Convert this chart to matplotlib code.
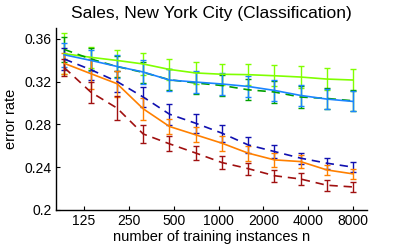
import matplotlib
matplotlib.use("Agg")
import matplotlib.pyplot as plt

# training set sizes (x) and tick labels
n = [92, 139, 208, 312, 468, 702, 1053, 1580, 2370, 3556, 5333, 8000]
xticks = [125, 250, 500, 1000, 2000, 4000, 8000]
yticks = [0.2, 0.24, 0.28, 0.32, 0.36]

# error rates
lgreen = [0.346, 0.3426, 0.3397, 0.3364, 0.3313, 0.328, 0.3268, 0.3264, 0.3254, 0.3242, 0.3223, 0.3214]
lgreen_err = [0.019, 0.010, 0.010, 0.010, 0.010, 0.010, 0.010, 0.010, 0.010, 0.010, 0.010, 0.010]
dgreen = [0.350, 0.341, 0.334, 0.3285, 0.3217, 0.3186, 0.3163, 0.3123, 0.3102, 0.3055, 0.3042, 0.302]
dgreen_err = [0.012, 0.010, 0.010, 0.010, 0.010, 0.010, 0.010, 0.010, 0.010, 0.010, 0.010, 0.010]
blue = [0.345, 0.3397, 0.3341, 0.3289, 0.3214, 0.3195, 0.3177, 0.3154, 0.3117, 0.307, 0.3036, 0.3014]
blue_err = [0.011, 0.010, 0.011, 0.011, 0.010, 0.010, 0.0105, 0.010, 0.010, 0.0097, 0.0093, 0.0093]
navy = [0.341, 0.331, 0.320, 0.3055, 0.2895, 0.281, 0.2718, 0.2608, 0.2546, 0.2484, 0.2437, 0.240]
navy_err = [0.010, 0.010, 0.010, 0.0094, 0.0098, 0.009, 0.008, 0.0078, 0.0065, 0.005, 0.005, 0.005]
orange = [0.337, 0.3273, 0.318, 0.2945, 0.278, 0.2702, 0.2624, 0.2531, 0.2468, 0.2452, 0.2374, 0.2337]
orange_err = [0.010, 0.014, 0.012, 0.010, 0.007, 0.007, 0.007, 0.007, 0.0065, 0.006, 0.0047, 0.0045]
dred = [0.333, 0.310, 0.2952, 0.271, 0.2618, 0.2532, 0.2443, 0.2386, 0.232, 0.2289, 0.2231, 0.2215]
dred_err = [0.008, 0.010, 0.011, 0.0085, 0.007, 0.0065, 0.006, 0.0057, 0.0055, 0.0055, 0.005, 0.005]

plt.rcParams['font.family'] = ['Liberation Sans', 'DejaVu Sans']


def main():
    fig = plt.figure(figsize=(4.07, 2.47), dpi=100)
    ax = fig.add_axes([0.1376, 0.150, 0.7641, 0.7366])

    series = [
        (lgreen, lgreen_err, '#80ff00', '-'),
        (dgreen, dgreen_err, '#00a000', (0, (5, 3.5))),
        (blue, blue_err, '#1a85ff', '-'),
        (navy, navy_err, '#1010b0', (0, (5, 3.5))),
        (orange, orange_err, '#ff8000', '-'),
        (dred, dred_err, '#a01010', (0, (5, 3.5))),
    ]
    for y, e, c, ls in series:
        ax.errorbar(n, y, yerr=e, color=c, ecolor=c, linestyle=ls,
                    linewidth=1.2, elinewidth=1.0, capsize=2.4, capthick=1.0)

    ax.set_xscale('log', base=2)
    ax.set_xlim(81, 9930)
    ax.set_ylim(0.2, 0.37)
    ax.set_xticks(xticks)
    ax.set_xticklabels([str(t) for t in xticks])
    ax.minorticks_off()
    ax.set_yticks(yticks)
    ax.set_yticklabels(['%g' % t for t in yticks])
    ax.tick_params(direction='in', length=3, width=0.8, labelsize=10, pad=3)
    for s in ['top', 'right']:
        ax.spines[s].set_visible(False)
    for s in ['left', 'bottom']:
        ax.spines[s].set_linewidth(1.0)

    ax.set_xlabel("number of training instances n", fontsize=10.5, labelpad=1)
    ax.set_ylabel("error rate", fontsize=10.5, labelpad=5)
    ax.set_title("Sales, New York City (Classification)", fontsize=12.5, pad=7)

    fig.savefig("out.png", dpi=100)


if __name__ == '__main__':
    main()
